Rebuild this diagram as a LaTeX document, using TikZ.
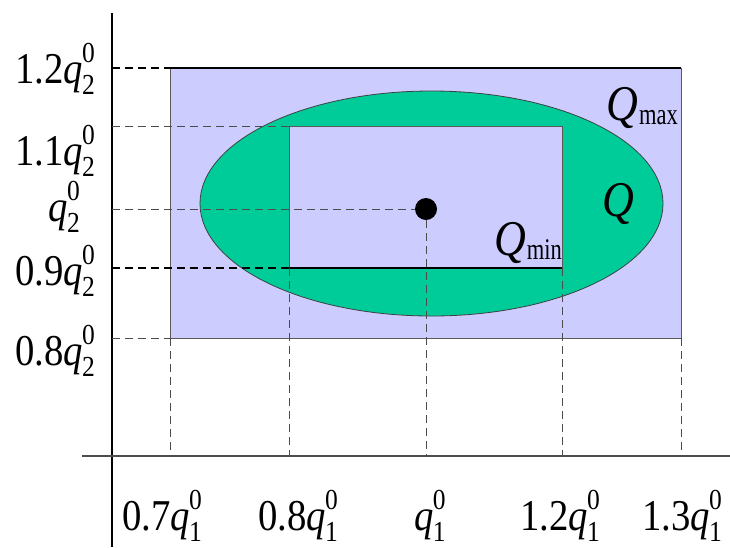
\documentclass[tikz,border=0pt]{standalone}
\usepackage{fontspec}
\setmainfont{Liberation Serif}[FakeStretch=0.88]
\newfontfamily\subfont{Liberation Serif}[FakeStretch=0.75]
\usetikzlibrary{shapes.geometric}
\definecolor{lav}{RGB}{204,204,255}
\definecolor{qgreen}{RGB}{0,204,153}
\newcommand{\lblsize}{\fontsize{44}{44}\selectfont}
\newcommand{\supsize}{\fontsize{29}{29}\selectfont}
% q with stacked sub/superscript
\newcommand{\qz}[1]{\textit{q}\kern-1pt\rlap{\raisebox{0.47em}{\supsize 0}}\raisebox{-0.27em}{\supsize #1}}
\newcommand{\qset}[1]{\textit{Q}\kern1pt\raisebox{-0.08em}{\subfont\fontsize{30}{30}\selectfont #1}}
\tikzset{
  region/.style={draw=gray!70!black, line width=0.9pt, outer sep=0pt, inner sep=0pt},
  rim/.style={line width=1.6pt, black},
  guide/.style={dash pattern=on 8pt off 5pt, line width=1pt, gray!60!black},
  axis/.style={line width=1.5pt},
  tick/.style={font=\lblsize, inner sep=0pt},
  setlbl/.style={font=\fontsize{50}{50}\selectfont, inner sep=0pt},
}
\begin{document}
\begin{tikzpicture}[x=1pt, y=-1pt]
  \useasboundingbox (0,0) rectangle (730,547);
  % regions
  \node[region, fill=lav, minimum width=511pt, minimum height=270pt] (qmax) at (425.5,203) {};
  \node[ellipse, fill=qgreen, draw=black!75, line width=0.8pt, inner sep=0pt,
        minimum width=463pt, minimum height=225pt] (qq) at (431.5,203.5) {};
  \node[region, fill=lav, minimum width=273pt, minimum height=142pt] (qmin) at (425.5,197) {};
  \draw[rim] (qmax.north west) -- (qmax.north east);
  \draw[rim] (qmin.south west) -- (qmin.south east);
  \node[circle, fill=black, inner sep=0pt, minimum size=22pt] (opt) at (426,209) {};

  % axes
  \coordinate (ytop) at (112,13);
  \coordinate (ybot) at (112,547);
  \coordinate (xl) at (82,456);
  \coordinate (xr) at (730,456);
  \draw[axis] (ytop) -- (ybot);
  \draw[axis, line width=1.2pt, gray!60!black] (xl) -- (xr);

  % guide lines to the axes
  \foreach \nm/\yy in {a/68,b/126,c/209,d/268,e/338} \coordinate (y\nm) at (112,\yy);
  \foreach \nm/\xx in {a/170,b/289,c/426,d/562,e/681} \coordinate (x\nm) at (\xx,456);
  \draw[guide, black, line width=1.2pt] (ya) -- (qmax.north west);
  \draw[guide] (yb) -- (qmin.north west);
  \draw[guide] (yc) -- (opt);
  \draw[guide, black, line width=1.2pt] (yd) -- (qmin.south west);
  \draw[guide] (ye) -- (qmax.south west);
  \draw[guide] (qmax.south west) -- (xa);
  \draw[guide] (qmin.south west) -- (xb);
  \draw[guide] (opt) -- (xc);
  \draw[guide] (qmin.south east) -- (xd);
  \draw[guide] (qmax.south east) -- (xe);

  % tick labels
  \foreach \nm/\yy/\num in {a/83/1.2,b/165/1.1,d/285/0.9,e/365/0.8}
    \node[tick, anchor=base east] (ly\nm) at (95,\yy) {\num\qz{2}};
  \node[tick, anchor=base east] (lyc) at (80,221) {\qz{2}};
  \foreach \nm/\xx/\num in {a/162/0.7,b/298/0.8,d/560/1.2,e/682/1.3}
    \node[tick, anchor=base] (lx\nm) at (\xx,530) {\num\qz{1}};
  \node[tick, anchor=base] (lxc) at (430,530) {\qz{1}};

  % set labels
  \node[setlbl, anchor=base east] (lmax) at (678,120) {\qset{max}};
  \node[setlbl, anchor=base] (lq) at (618,216) {\textit{Q}};
  \node[setlbl, anchor=base east] (lmin) at (562,255) {\qset{min}};
\end{tikzpicture}
\end{document}
